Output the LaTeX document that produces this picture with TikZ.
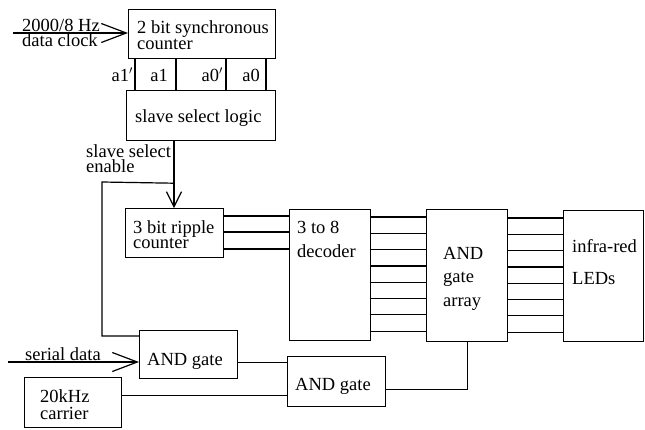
\documentclass[tikz,border=0pt]{standalone}
\usepackage{fontspec}
\setmainfont{Liberation Serif}
\usetikzlibrary{arrows.meta,calc}
\newcommand\stk[2]{\vtop{\lineskiplimit=-100pt\lineskip=0pt\baselineskip=#1pt #2}}
\begin{document}
\begin{tikzpicture}[x=1pt,y=-1pt,
  box/.style={draw,line width=1.2pt,anchor=north west,inner sep=0pt},
  lbl/.style={anchor=base west,inner sep=0pt,font=\fontsize{18.5}{20}\selectfont},
  lblr/.style={anchor=base east,inner sep=0pt,font=\fontsize{18.5}{20}\selectfont},
  wire/.style={line width=1.2pt},
  bigarrow/.style={wire,-{Straight Barb[length=25pt,width=19pt,line width=1.2pt]}},
  smallarrow/.style={wire,-{Straight Barb[length=15pt,width=15pt,line width=1.2pt]}}]
\useasboundingbox (0,0) rectangle (645,429);
\fill[white] (0,0) rectangle (645,429);

% boxes
\node[box,minimum width=147pt,minimum height=49pt] (cnt) at (128,9) {};
\node[box,minimum width=149pt,minimum height=50pt] (logic) at (126,90) {};
\node[box,minimum width=98pt,minimum height=49pt] (ripple) at (125,208) {};
\node[box,minimum width=81pt,minimum height=131pt] (dec) at (289,209) {};
\node[box,minimum width=81pt,minimum height=132pt] (arr) at (426,209) {};
\node[box,minimum width=80pt,minimum height=131pt] (leds) at (563,210) {};
\node[box,minimum width=98pt,minimum height=48pt] (and1) at (139,330) {};
\node[box,minimum width=98pt,minimum height=50pt] (and2) at (287,356) {};
\node[box,minimum width=97pt,minimum height=50pt] (carr) at (24,377) {};

% texts
\node[lbl] (t1) at (137,33) {\stk{16}{\hbox{2 bit synchronous}\hbox{counter}}};
\node[lbl] (t3) at (135,122) {slave select logic};
\node[lblr] (la1p) at (133,81) {a1$'$};
\node[lblr] (la1) at (168,81) {a1};
\node[lblr] (la0p) at (223,81) {a0$'$};
\node[lblr] (la0) at (260,81) {a0};
\node[lbl] (t4) at (86,157) {\stk{15}{\hbox{slave select}\hbox{enable}}};
\node[lbl] (t6) at (133,233) {\stk{15}{\hbox{3 bit ripple}\hbox{counter}}};
\node[lbl] (t8) at (297,233) {\stk{24}{\hbox{3 to 8}\hbox{decoder}}};
\node[lbl] (t10) at (443,259) {\stk{23.5}{\hbox{AND}\hbox{gate}\hbox{array}}};
\node[lbl] (t13) at (572,252) {\stk{32}{\hbox{infra-red}\hbox{LEDs}}};
\node[lbl] (t15) at (147,365) {AND gate};
\node[lbl] (t16) at (295,390) {AND gate};
\node[lbl] (t17) at (40,402) {\stk{17}{\hbox{20kHz}\hbox{carrier}}};
\node[lbl] (t19) at (22,31) {\stk{15}{\hbox{2000/8 Hz}\hbox{data clock}}};
\node[lbl] (t21) at (25,360) {serial data};

% counter -> logic wires
\foreach \dx/\n in {135/1,176/2,226/3,266/4}{
  \coordinate (w\n) at ($(cnt.south west)+(\dx-128,0)$);
  \draw[wire] (w\n) -- (w\n |- logic.north);
}

% clock input
\coordinate (dc) at (13,33);
\draw[bigarrow] (dc) -- (dc -| cnt.west);

% slave select enable
\coordinate (ss) at ($(logic.south west)+(48,0)$);
\coordinate (j) at ($(ss)+(0,42)$);
\coordinate (c1) at (102,182);
\coordinate (e1) at ($(and1.north west)+(0,6)$);
\draw[smallarrow] (ss) -- (ss |- ripple.north);
\draw[wire] (j) -- (c1) |- (e1);

% ripple -> decoder
\foreach \dy/\n in {8/1,24/2,41/3}{
  \coordinate (r\n) at ($(ripple.north east)+(0,\dy)$);
  \draw[wire] (r\n) -- (r\n -| dec.west);
}
% decoder -> array
\foreach \i in {0,...,7}{
  \coordinate (p\i) at ($(dec.north east)+(0,{8+16.3*\i})$);
  \draw[wire] (p\i) -- (p\i -| arr.west);
}
% array -> leds
\foreach \i in {0,...,7}{
  \coordinate (q\i) at ($(arr.north east)+(0,{9+16.3*\i})$);
  \draw[wire] (q\i) -- (q\i -| leds.west);
}

% serial data
\coordinate (sd) at (8,362);
\draw[bigarrow] (sd) -- (sd -| and1.west);

% and1 -> and2
\coordinate (a1o) at ($(and1.east)+(0,8)$);
\draw[wire] (a1o) -- (a1o -| and2.west);
% carrier -> and2
\coordinate (co) at ($(carr.east)+(0,-7)$);
\draw[wire] (co) -- (co -| and2.west);
% and2 -> array
\coordinate (a2o) at ($(and2.east)+(0,8)$);
\draw[wire] (a2o) -| (arr.south);
\end{tikzpicture}
\end{document}
